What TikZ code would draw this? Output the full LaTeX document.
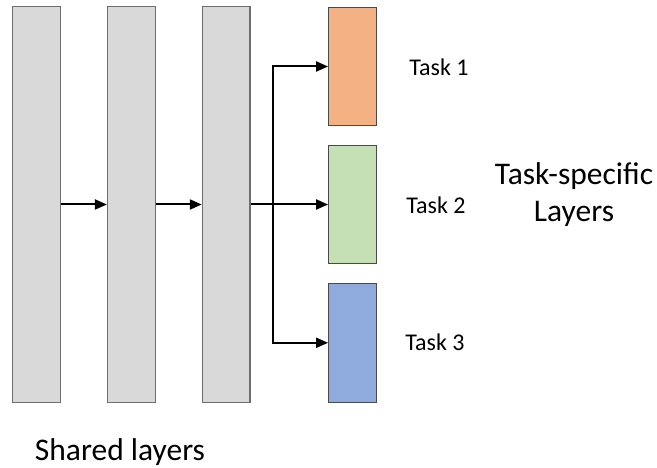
\documentclass[tikz,border=0pt]{standalone}
\usepackage{fontspec}
\setmainfont{Carlito}
\usetikzlibrary{arrows.meta}
\definecolor{sharedfill}{HTML}{D9D9D9}
\definecolor{sharedline}{HTML}{6E6E6E}
\definecolor{taskline}{HTML}{4A4A4A}
\definecolor{orangefill}{HTML}{F4B183}
\definecolor{greenfill}{HTML}{C5E0B4}
\definecolor{bluefill}{HTML}{8FAADC}
\tikzset{
  sharedbox/.style={draw=sharedline, fill=sharedfill, line width=1.2pt, minimum width=47.6pt, minimum height=395.6pt, inner sep=0pt},
  taskbox/.style={draw=taskline, line width=1.2pt, minimum width=47.6pt, minimum height=118.6pt, inner sep=0pt},
  conn/.style={line width=2pt, -{Triangle[length=12pt,width=10pt]}},
  tasklabel/.style={font=\fontsize{24}{26}\selectfont, inner sep=0pt},
  biglabel/.style={font=\fontsize{31.5}{37}\selectfont, inner sep=0pt, align=center}
}
\begin{document}
\begin{tikzpicture}[x=1pt,y=-1pt]
\useasboundingbox (0,0) rectangle (657,468);
\node[sharedbox] (s1) at (36.5,204.5) {};
\node[sharedbox] (s2) at (131.3,204.5) {};
\node[sharedbox] (s3) at (226.2,204.5) {};
\node[taskbox, fill=orangefill] (t1) at (352.5,66.5) {};
\node[taskbox, fill=greenfill] (t2) at (352.5,204.5) {};
\node[taskbox, fill=bluefill] (t3) at (352.5,342.8) {};
\coordinate (br) at (273.3,204.5);
\draw[conn] (s1.east) -- (s2.west);
\draw[conn] (s2.east) -- (s3.west);
\draw[conn] (s3.east) -- (t2.west);
\draw[conn] (br) |- (t1.west);
\draw[conn] (br) |- (t3.west);
\node[tasklabel] (l1) at (439,67) {Task 1};
\node[tasklabel] (l2) at (436,205) {Task 2};
\node[tasklabel] (l3) at (435,342) {Task 3};
\node[biglabel] (ts) at (574,195) {Task-specific\\Layers};
\node[biglabel] (sh) at (120,452) {Shared layers};
\end{tikzpicture}
\end{document}
